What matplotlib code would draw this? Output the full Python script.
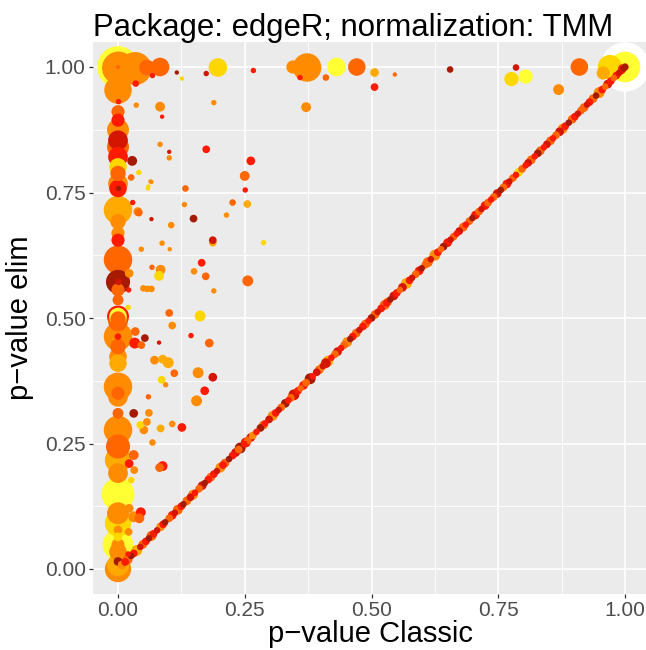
import numpy as np
import matplotlib.pyplot as plt

plt.rcParams['font.family'] = ['Liberation Sans', 'DejaVu Sans']

# colour levels (heat scale) used for the points
heat_colours = ['#FFFF33', '#FFD700', '#FFAA00', '#FF8C00', '#FF6600',
                '#FF1A00', '#D41500', '#A51A00', '#FFFFFF']

# GO terms with a much smaller p-value under "classic" than under "elim"
col_classic = [0.000, 0.001, 0.034, 0.057, 0.083, 0.000, 0.000, 0.001, 0.000, 0.000,
               0.000, 0.000, 0.000, 0.000, 0.000, 0.028, 0.000, 0.000, 0.000, 0.001,
               0.000, 0.000, 0.000, 0.000, 0.000, 0.000, 0.001, 0.000, 0.000, 0.000,
               0.000, 0.000, 0.000, 0.000, 0.000, 0.000, 0.000, 0.000, 0.000, 0.000,
               0.000, 0.000, 0.000, 0.000, 0.000, 0.000, 0.000, 0.000, 0.000, 0.000,
               0.000, 0.000, 0.000, 0.000, 0.000, 0.000, 0.000,
               0.026, 0.041, 0.029, 0.039, 0.064, 0.060, 0.036, 0.022, 0.021, 0.050,
               0.058, 0.066, 0.020, 0.034, 0.033, 0.046, 0.053, 0.046, 0.041, 0.031,
               0.044, 0.051, 0.057, 0.031, 0.022, 0.045, 0.031, 0.022, 0.021, 0.026,
               0.035, 0.068, 0.032, 0.088, 0.082, 0.042, 0.020]
col_elim = [1.000, 0.998, 0.997, 0.999, 1.000, 1.000, 0.954, 0.931, 0.911, 0.894,
            0.875, 0.854, 0.841, 0.821, 0.801, 0.813, 0.788, 0.768, 0.758, 0.758,
            0.715, 0.692, 0.669, 0.655, 0.616, 0.572, 0.572, 0.556, 0.536, 0.503,
            0.503, 0.498, 0.493, 0.463, 0.463, 0.443, 0.423, 0.410, 0.363, 0.343,
            0.350, 0.310, 0.277, 0.244, 0.217, 0.191, 0.149, 0.111, 0.091, 0.078,
            0.064, 0.048, 0.048, 0.034, 0.015, 0.000, 0.008,
            0.780, 0.790, 0.730, 0.712, 0.772, 0.762, 0.924, 0.589, 0.556, 0.559,
            0.558, 0.558, 0.521, 0.473, 0.450, 0.446, 0.460, 0.637, 0.710, 0.310,
            0.287, 0.277, 0.293, 0.227, 0.210, 0.113, 0.104, 0.121, 0.074, 0.177,
            0.967, 0.983, 0.197, 0.205, 0.202, 0.101, 0.030]
col_genes = [640, 400, 400, 90, 128, 7, 280, 11, 64, 64,
             178, 144, 178, 144, 114, 36, 87, 144, 114, 11,
             300, 87, 64, 64, 300, 215, 16, 64, 44, 178,
             114, 87, 144, 300, 16, 87, 114, 114, 300, 144,
             64, 44, 300, 215, 256, 144, 400, 178, 256, 28,
             28, 348, 64, 114, 28, 256, 178,
             16, 11, 11, 28, 7, 7, 11, 28, 11, 16,
             16, 16, 11, 28, 44, 22, 22, 11, 22, 28,
             22, 28, 22, 36, 28, 36, 44, 28, 22, 16,
             16, 11, 22, 36, 28, 36, 11]
col_level = [0, 3, 3, 4, 4, 4, 3, 5, 4, 5,
             3, 6, 4, 5, 1, 7, 4, 3, 5, 7,
             2, 3, 3, 5, 4, 7, 6, 4, 4, 5,
             0, 4, 4, 3, 5, 4, 3, 2, 3, 3,
             4, 4, 3, 4, 2, 3, 0, 3, 1, 3,
             1, 0, 3, 3, 7, 3, 2,
             4, 1, 5, 3, 3, 1, 3, 3, 5, 3,
             3, 3, 1, 4, 5, 4, 7, 3, 4, 7,
             1, 3, 3, 4, 5, 5, 3, 3, 3, 1,
             5, 5, 3, 5, 4, 4, 5]

# terms scattered between the two extremes, including the p = 1 row
mid_classic = [0.116, 0.126, 0.174, 0.197, 0.267, 0.345, 0.373, 0.359, 0.431, 0.410,
               0.471, 0.371, 0.506, 0.506, 0.546, 0.655, 0.785, 0.776, 0.804, 0.869,
               0.910, 0.957, 0.970, 1.000, 1.000, 0.995, 1.000, 0.083, 0.087, 0.189,
               0.083, 0.101, 0.101, 0.174, 0.262, 0.250, 0.251, 0.133, 0.066, 0.059,
               0.131, 0.149, 0.066, 0.105, 0.226, 0.255, 0.214, 0.187, 0.187, 0.287,
               0.087, 0.102, 0.067, 0.084, 0.081, 0.165, 0.150, 0.173, 0.189, 0.256,
               0.101, 0.162, 0.107, 0.144, 0.081, 0.180, 0.072, 0.088, 0.099, 0.158,
               0.111, 0.187, 0.086, 0.094, 0.171, 0.155, 0.060, 0.061, 0.107, 0.084,
               0.126, 0.068]
mid_elim = [0.989, 0.977, 0.987, 0.999, 0.993, 1.000, 0.999, 0.979, 1.000, 0.979,
            1.000, 0.920, 0.989, 0.960, 0.985, 0.995, 0.999, 0.976, 0.981, 0.955,
            1.000, 0.988, 1.000, 1.000, 1.000, 0.997, 1.000, 0.921, 0.901, 0.929,
            0.846, 0.831, 0.819, 0.836, 0.813, 0.783, 0.755, 0.758, 0.771, 0.758,
            0.726, 0.698, 0.697, 0.685, 0.730, 0.727, 0.705, 0.650, 0.655, 0.650,
            0.649, 0.637, 0.601, 0.596, 0.584, 0.610, 0.593, 0.583, 0.554, 0.574,
            0.510, 0.504, 0.485, 0.465, 0.451, 0.450, 0.416, 0.418, 0.411, 0.391,
            0.390, 0.382, 0.377, 0.367, 0.355, 0.335, 0.343, 0.311, 0.289, 0.280,
            0.282, 0.252]
mid_genes = [7, 7, 11, 128, 11, 64, 300, 11, 128, 16,
             114, 36, 28, 22, 7, 16, 16, 75, 75, 44,
             114, 64, 215, 900, 348, 28, 16, 36, 7, 11,
             11, 7, 11, 22, 28, 36, 11, 16, 7, 7,
             11, 22, 7, 16, 16, 22, 11, 22, 22, 11,
             11, 7, 11, 36, 36, 22, 16, 22, 11, 44,
             22, 44, 22, 11, 7, 28, 28, 28, 44, 44,
             22, 28, 22, 11, 28, 44, 11, 22, 16, 22,
             28, 16]
mid_level = [7, 1, 6, 1, 5, 3, 3, 5, 0, 4,
             4, 3, 2, 5, 4, 7, 6, 1, 0, 3,
             4, 2, 1, 8, 0, 5, 7, 3, 5, 3,
             3, 6, 3, 5, 5, 4, 5, 4, 3, 1,
             3, 7, 6, 3, 4, 2, 3, 2, 6, 1,
             3, 3, 4, 3, 1, 5, 3, 4, 3, 4,
             4, 1, 3, 5, 6, 4, 3, 2, 2, 3,
             4, 6, 1, 3, 5, 3, 4, 3, 3, 2,
             5, 3]

# terms with identical p-values in both methods (the diagonal)
same_p = [0.008, 0.014, 0.019, 0.026, 0.031, 0.037, 0.044, 0.049, 0.055, 0.061,
          0.066, 0.070, 0.077, 0.084, 0.089, 0.093, 0.101, 0.107, 0.112, 0.118,
          0.125, 0.129, 0.136, 0.143, 0.148, 0.152, 0.160, 0.166, 0.171, 0.178,
          0.183, 0.189, 0.195, 0.202, 0.207, 0.211, 0.219, 0.226, 0.232, 0.238,
          0.241, 0.249, 0.256, 0.262, 0.266, 0.273, 0.281, 0.287, 0.290, 0.298,
          0.305, 0.311, 0.317, 0.322, 0.330, 0.336, 0.341, 0.347, 0.355, 0.360,
          0.366, 0.371, 0.379, 0.384, 0.392, 0.397, 0.403, 0.410, 0.414, 0.421,
          0.428, 0.433, 0.440, 0.446, 0.452, 0.458, 0.463, 0.470, 0.476, 0.483,
          0.488, 0.494, 0.500, 0.507, 0.512, 0.519, 0.526, 0.530, 0.537, 0.544,
          0.550, 0.556, 0.561, 0.569, 0.575, 0.580, 0.587, 0.594, 0.599, 0.606,
          0.612, 0.617, 0.625, 0.631, 0.637, 0.642, 0.650, 0.656, 0.662, 0.668,
          0.673, 0.681, 0.686, 0.693, 0.699, 0.705, 0.712, 0.717, 0.724, 0.730,
          0.736, 0.741, 0.748, 0.755, 0.760, 0.767, 0.772, 0.779, 0.785, 0.790,
          0.797, 0.804, 0.809, 0.815, 0.822, 0.828, 0.833, 0.840, 0.846, 0.853,
          0.858, 0.864, 0.871, 0.877, 0.882, 0.889, 0.896, 0.901, 0.907, 0.913,
          0.919, 0.925, 0.930, 0.937, 0.943, 0.949, 0.955, 0.961, 0.966, 0.972,
          0.978, 0.983, 0.988, 0.993, 0.997, 1.000, 0.252, 0.404, 0.532, 0.611]
same_genes = [28, 22, 36, 16, 22, 44, 16, 28, 22, 16,
              36, 22, 16, 28, 22, 16, 22, 28, 16, 36,
              22, 16, 28, 22, 36, 16, 22, 28, 16, 22,
              28, 22, 16, 36, 22, 28, 16, 22, 28, 22,
              44, 16, 22, 28, 22, 16, 22, 28, 16, 22,
              36, 22, 16, 22, 28, 16, 22, 44, 22, 16,
              28, 22, 44, 16, 22, 28, 22, 36, 44, 16,
              22, 28, 16, 22, 36, 16, 22, 28, 16, 22,
              28, 16, 22, 28, 16, 22, 36, 22, 16, 28,
              22, 16, 28, 44, 22, 16, 22, 28, 16, 22,
              28, 16, 44, 22, 16, 22, 28, 16, 22, 16,
              22, 28, 16, 22, 16, 28, 22, 16, 28, 22,
              16, 22, 28, 16, 22, 28, 16, 22, 16, 28,
              22, 16, 22, 28, 16, 22, 28, 16, 22, 28,
              16, 22, 28, 36, 22, 16, 28, 22, 16, 22,
              28, 16, 22, 28, 16, 44, 22, 16, 28, 22,
              16, 22, 16, 22, 16, 22, 36, 16, 28, 36]
same_level = [3, 5, 4, 7, 5, 2, 6, 4, 5, 7,
              4, 5, 6, 3, 5, 7, 4, 5, 6, 4,
              5, 7, 4, 6, 3, 5, 4, 6, 7, 5,
              4, 5, 6, 3, 5, 4, 7, 5, 6, 4,
              7, 5, 4, 6, 3, 5, 7, 4, 5, 6,
              3, 5, 6, 4, 7, 5, 4, 6, 5, 4,
              5, 4, 7, 5, 6, 4, 3, 6, 2, 5,
              4, 6, 5, 4, 3, 7, 5, 4, 6, 5,
              4, 5, 7, 4, 6, 5, 4, 5, 7, 6,
              5, 4, 6, 2, 5, 6, 4, 5, 7, 4,
              4, 6, 3, 5, 4, 7, 5, 6, 4, 5,
              6, 4, 5, 4, 7, 5, 4, 6, 5, 4,
              5, 4, 6, 7, 4, 5, 6, 4, 5, 1,
              4, 5, 6, 4, 5, 7, 4, 5, 6, 4,
              5, 4, 6, 3, 5, 7, 4, 5, 6, 4,
              4, 6, 5, 4, 7, 3, 5, 4, 6, 5,
              4, 5, 6, 5, 7, 4, 5, 6, 3, 4]

classic = np.array(col_classic + mid_classic + same_p)
elim = np.array(col_elim + mid_elim + same_p)
genes = np.array(col_genes + mid_genes + same_genes)
level = np.array(col_level + mid_level + same_level)

# biggest terms underneath
order = np.argsort(-genes, kind='stable')
colours = np.array(heat_colours)[level]

fig = plt.figure(figsize=(6.46, 6.5), dpi=100)
ax = fig.add_axes([92.65 / 646, (650 - 594.1) / 650, 557.7 / 646, 552.2 / 650])
ax.set_facecolor('#EBEBEB')
ax.scatter(classic[order], elim[order], s=genes[order] * 1.4,
           c=colours[order], linewidths=0, zorder=3)

ticks = [0, 0.25, 0.5, 0.75, 1.0]
ax.set_xticks(ticks)
ax.set_yticks(ticks)
ax.set_xticks([0.125, 0.375, 0.625, 0.875], minor=True)
ax.set_yticks([0.125, 0.375, 0.625, 0.875], minor=True)
ax.set_xticklabels(['0.00', '0.25', '0.50', '0.75', '1.00'])
ax.set_yticklabels(['0.00', '0.25', '0.50', '0.75', '1.00'])
ax.set_xlim(-0.05, 1.05)
ax.set_ylim(-0.05, 1.05)
ax.grid(which='major', color='white', linewidth=1.2)
ax.grid(which='minor', color='white', linewidth=0.6)
ax.set_axisbelow(True)
for s in ax.spines.values():
    s.set_visible(False)
ax.tick_params(which='major', length=3, width=0.9, color='#333333',
               labelsize=15, labelcolor='#4D4D4D', pad=2)
ax.tick_params(which='minor', length=0)

ax.set_ylabel('p\u2212value elim', fontsize=21, labelpad=8)
fig.text(371 / 646, 1 - 642 / 650, 'p\u2212value Classic', fontsize=21,
         ha='center', va='baseline')
fig.text(93 / 646, 1 - 36 / 650, 'Package: edgeR; normalization: TMM',
         fontsize=22.4, ha='left', va='baseline')

fig.savefig('out.png', dpi=100)
